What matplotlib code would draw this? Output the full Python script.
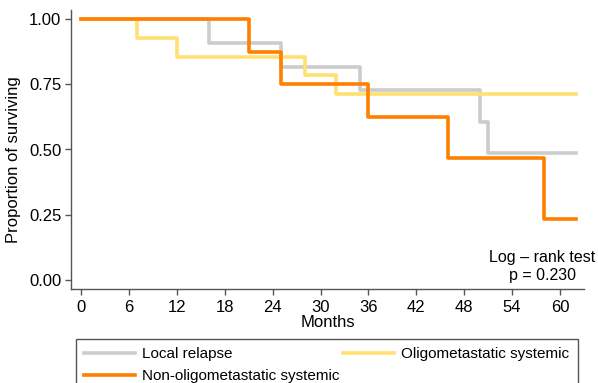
import matplotlib.pyplot as plt

# Kaplan-Meier step data (months, proportion surviving)
local_t = [0, 16, 25, 35, 50, 51, 62]
local_s = [1.0, 0.909, 0.818, 0.727, 0.606, 0.485, 0.485]

oligo_t = [0, 7, 12, 28, 32, 62]
oligo_s = [1.0, 0.929, 0.857, 0.786, 0.714, 0.714]

nonoligo_t = [0, 21, 25, 36, 46, 58, 62]
nonoligo_s = [1.0, 0.875, 0.75, 0.625, 0.469, 0.234, 0.234]

xticks = list(range(0, 61, 6))
yticks = [0.0, 0.25, 0.5, 0.75, 1.0]

plt.rcParams['font.family'] = ['Liberation Sans', 'DejaVu Sans']

fig = plt.figure(figsize=(5.98, 3.83), dpi=100)
ax = fig.add_axes([71 / 598, 1 - 289 / 383, 513 / 598, 279 / 383])

l1, = ax.step(local_t, local_s, where='post', color='#cccccc', lw=2.6, label='Local relapse')
l2, = ax.step(oligo_t, oligo_s, where='post', color='#ffe070', lw=2.6, label='Oligometastatic systemic')
l3, = ax.step(nonoligo_t, nonoligo_s, where='post', color='#ff7f00', lw=2.6, label='Non-oligometastatic systemic')

ax.set_xlim(-1.25, 63)
ax.set_ylim(-0.0365, 1.0365)
ax.set_xticks(xticks)
ax.set_yticks(yticks)
ax.set_yticklabels(['%.2f' % v for v in yticks])

for s in ['top', 'right']:
    ax.spines[s].set_visible(False)
for s in ['left', 'bottom']:
    ax.spines[s].set_color('#555555')
    ax.spines[s].set_linewidth(1.0)
ax.tick_params(axis='both', colors='#555555', labelcolor='black', length=4, width=1, labelsize=12)
ax.tick_params(axis='x', pad=4)
ax.tick_params(axis='y', pad=3)

ax.set_xlabel('Months', fontsize=12, labelpad=0)
ax.set_ylabel('Proportion of surviving', fontsize=12)
ax.yaxis.set_label_coords(-0.0975, 0.462)

ax.text(57.8, 0.05, 'Log \u2013 rank test\np = 0.230', ha='center', va='center',
        fontsize=11.5, linespacing=1.2)

fig.legend(handles=[l1, l3, l2], loc='upper left', ncol=2, mode='expand',
           bbox_to_anchor=(76 / 598, 1 - 339 / 383, 502 / 598, 0.0),
           fancybox=False, edgecolor='#555555', fontsize=11, handlelength=3.3,
           handletextpad=0.5, borderpad=0.55, labelspacing=0.5, borderaxespad=0,
           framealpha=1)

fig.savefig('out.png', dpi=100)
